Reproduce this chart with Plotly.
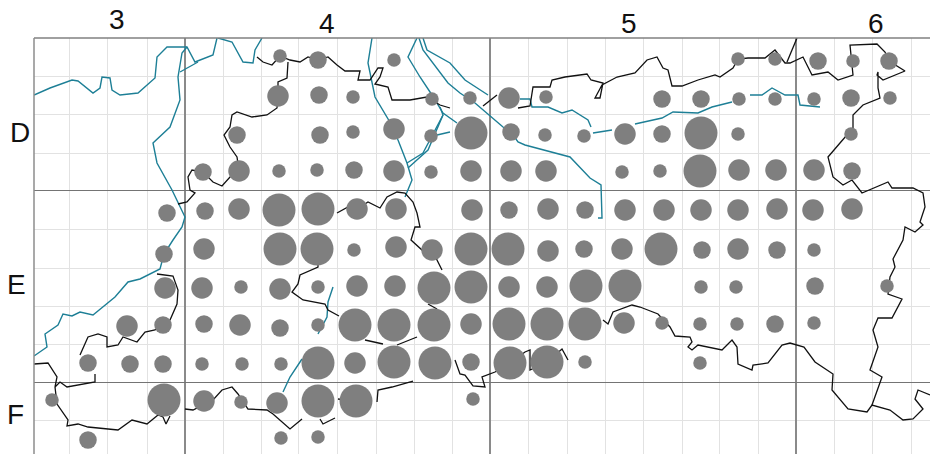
import plotly.graph_objects as go

# Occurrence records: map position and abundance class (1 to 4)
bubble_x = [280,318,394,738,775,818,853,889,
 278,319,353,432,470,509,546,662,701,739,775,814,851,890,
 237,320,353,394,431,471,511,545,584,625,662,701,738,851,
 203,239,279,317,354,394,431,471,511,546,622,660,700,739,776,814,852,
 167,205,239,279,318,357,396,472,509,548,585,625,664,701,738,777,813,852,
 164,204,280,317,354,396,432,471,508,548,584,622,661,702,738,777,814,
 165,202,241,280,318,357,395,434,471,509,547,586,625,701,736,815,887,
 127,163,204,240,280,318,355,394,434,471,509,547,585,624,662,700,737,775,814,
 88,130,163,202,242,281,318,355,394,435,471,510,547,585,700,
 52,164,204,241,277,318,356,473,
 88,281,318]
bubble_y = [56,60,60,59,59,61,61,61,
 96,95,97,99,98,98,97,99,99,99,99,99,98,98,
 135,135,132,129,136,133,132,135,136,134,134,133,134,134,
 172,171,171,170,170,171,172,171,171,171,172,171,171,170,170,170,171,
 213,211,209,210,209,209,209,210,210,209,210,210,210,210,210,209,210,209,
 254,249,249,249,250,247,250,249,249,251,249,249,249,250,249,250,250,
 288,288,287,289,287,286,286,288,287,287,287,286,286,287,287,286,286,
 326,325,324,325,328,325,325,325,325,324,324,324,324,323,323,324,324,324,323,
 363,364,364,364,364,364,363,363,362,363,362,363,362,362,363,
 400,400,401,402,403,401,401,399,
 440,438,437]
bubble_class = [1,2,1,1,1,2,1,2,
 3,2,1,1,1,3,1,2,2,1,1,1,2,1,
 2,2,1,3,1,4,2,1,1,3,2,4,1,1,
 2,3,1,1,2,3,1,3,3,3,1,1,4,3,3,3,2,
 2,2,3,4,4,3,3,3,2,3,2,3,3,3,3,3,3,3,
 2,3,4,4,1,3,3,4,4,3,2,3,4,2,3,2,1,
 3,3,1,3,1,3,3,4,4,3,3,4,4,1,1,2,1,
 3,2,2,3,2,1,4,4,4,3,4,4,4,3,1,1,1,2,1,
 2,2,2,1,1,1,4,3,4,4,2,4,4,1,1,
 1,4,3,1,3,4,4,1,
 2,1,1]

border_x = [257,263,272,280,290,300,308,318,328,337,345,360,358,370,378,383,380,375,388,392,410,427,440,450,None,
 288,287,278,278,277,267,252,237,232,230,224,230,237,239,230,222,213,203,192,188,190,195,187,178,None,
 337,348,357,368,380,387,397,405,413,417,420,415,411,422,432,442,None,
 428,437,None,
 318,318,300,298,292,303,325,328,339,None,
 365,383,None,397,417,None,
 157,173,178,177,170,155,145,137,123,118,107,107,98,88,80,None,
 34,48,57,55,60,67,95,95,None,
 55,57,68,67,78,88,118,132,147,158,163,166,170,None,
 185,193,213,222,232,238,248,267,273,290,302,None,320,323,335,None,
 338,352,None,377,378,392,413,None,
 455,460,465,473,485,482,495,510,525,530,530,547,562,568,None,
 603,608,613,632,640,658,670,675,690,692,688,692,698,722,732,737,738,752,753,768,782,790,804,815,833,832,848,867,872,890,903,913,923,915,918,930,None,
 483,497,None,
 518,530,533,550,552,565,587,591,603,600,595,602,617,635,647,657,663,668,672,682,698,715,720,733,738,748,765,775,785,790,803,812,828,838,853,850,877,885,889,905,883,877,878,878,880,863,853,853,840,828,833,843,852,862,888,892,913,923,925,920,923,915,905,903,893,895,890,888,902,892,878,873,878,870,882,872,None,
 797,787]
border_y = [57,62,65,56,60,62,57,60,57,65,71,71,80,80,68,68,77,84,87,100,100,97,105,108,None,
 62,78,82,96,108,115,117,112,115,127,135,147,157,171,177,186,182,172,170,177,190,193,202,204,None,
 213,207,209,202,208,197,192,193,202,213,227,227,240,250,250,270,None,
 304,309,None,
 249,267,275,284,292,300,304,310,316,None,
 340,344,None,345,337,None,
 274,276,290,304,320,330,332,342,337,345,347,337,334,337,355,None,
 364,363,377,387,382,387,382,374,None,
 387,404,420,426,424,427,430,420,424,415,417,424,416,None,
 409,410,400,390,387,394,409,410,414,429,419,None,419,424,418,None,
 399,401,None,402,390,387,381,None,
 360,374,375,386,387,377,372,363,352,350,370,362,349,360,None,
 320,324,312,305,307,314,327,336,337,342,347,350,345,350,340,347,364,370,365,363,345,343,347,362,374,390,409,412,405,410,420,419,409,399,390,395,None,
 106,95,None,
 108,106,87,87,80,77,74,80,83,98,98,85,77,73,60,57,68,70,86,86,80,75,77,68,59,58,58,50,63,63,57,75,72,80,75,45,44,52,61,71,80,75,72,88,98,105,115,128,143,157,177,185,180,193,182,188,188,193,207,222,225,232,227,240,259,267,277,294,299,318,318,330,347,370,377,405,None,
 38,62]

river_x = [34,50,72,78,93,100,102,110,112,120,138,155,157,167,187,195,213,217,None,
 218,232,243,253,255,262,None,
 187,182,178,180,170,153,157,172,185,182,173,164,160,140,128,115,93,80,72,63,58,45,47,34,None,
 180,198,None,
 372,368,375,388,394,398,407,412,405,None,
 408,428,443,440,None,407,423,443,None,
 417,408,420,432,443,457,None,437,450,None,
 419,423,448,460,475,503,511,518,525,570,590,601,602,598,None,
 423,427,450,465,488,None,
 520,530,532,548,562,572,588,591,None,
 593,612,None,635,662,673,698,712,732,None,750,762,772,785,798,800,820,None,
 333,328,327,318,None,302,290,283]
river_y = [95,88,80,81,93,88,77,78,90,95,93,78,57,47,47,62,55,38,None,
 38,42,62,63,50,38,None,
 47,53,77,100,127,143,163,190,217,227,240,254,269,279,282,297,315,312,316,314,325,334,347,356,None,
 72,62,None,
 38,63,97,118,129,140,163,180,197,None,
 168,150,115,107,None,163,153,115,None,
 38,57,77,95,113,123,None,135,132,None,
 38,50,83,93,103,127,132,142,145,157,178,185,218,218,None,
 38,50,63,80,95,None,
 99,99,107,107,113,110,120,127,None,
 133,130,None,124,118,112,113,107,102,None,95,95,88,95,95,105,107,None,
 287,302,317,334,None,359,377,392]

major_x = [185,490,796]
major_y = [190,382]
minor_x = [69,107,147,223,261,298,337,376,414,452,528,567,605,643,682,719,758,834,872,911]
minor_y = [76,114,153,229,268,306,344,420]

col_labels = ["3","4","5","6"]
col_label_x = [117,327,629,876]
col_label_y = [20,23,23,24]
row_labels = ["D","E","F"]
row_label_x = [20,16,15]
row_label_y = [132,284,414]

class_diameter = {1:13.5, 2:17.5, 3:21.5, 4:33}
W, H = 930, 454
L, T = 34, 38

fig = go.Figure()
fig.add_trace(go.Scatter(x=river_x, y=river_y, mode="lines", line=dict(color="#1d7f96", width=1.4), hoverinfo="skip"))
fig.add_trace(go.Scatter(x=border_x, y=border_y, mode="lines", line=dict(color="#111111", width=1.3), hoverinfo="skip"))
fig.add_trace(go.Scatter(x=bubble_x, y=bubble_y, mode="markers",
    marker=dict(size=[class_diameter[c] for c in bubble_class], color="#7f7f7f", line=dict(width=0), opacity=1)))

def px_to_paper(px, py):
    return (px - L) / (W - L), (H - py) / (H - T)

for t, px, py in list(zip(col_labels, col_label_x, col_label_y)) + list(zip(row_labels, row_label_x, row_label_y)):
    ax, ay = px_to_paper(px, py)
    fig.add_annotation(text=t, x=ax, y=ay, xref="paper", yref="paper", showarrow=False,
                       xanchor="center", yanchor="middle",
                       font=dict(family="Liberation Sans", size=28, color="#111111"))

fig.add_shape(type="line", xref="paper", yref="paper", x0=0, x1=1, y0=1, y1=1, line=dict(color="#808080", width=1.5))
fig.add_shape(type="line", xref="paper", yref="paper", x0=0, x1=0, y0=0, y1=1, line=dict(color="#8c8c8c", width=1.5))

axis = dict(showticklabels=False, ticks="", zeroline=False, showline=False, layer="below traces")
fig.update_layout(width=W, height=H, margin=dict(l=L, r=0, t=T, b=0), showlegend=False,
    paper_bgcolor="white", plot_bgcolor="white",
    xaxis=dict(range=[L, W], tickmode="array", tickvals=major_x, gridcolor="#8a8a8a", gridwidth=1.6,
               minor=dict(tickmode="array", tickvals=minor_x, showgrid=True, gridcolor="#e2e2e2", gridwidth=1.1, ticks=""), **axis),
    yaxis=dict(range=[H, T], tickmode="array", tickvals=major_y, gridcolor="#747474", gridwidth=1.3,
               minor=dict(tickmode="array", tickvals=minor_y, showgrid=True, gridcolor="#e2e2e2", gridwidth=1.1, ticks=""), **axis))
fig.write_html("out.html", config=dict(displayModeBar=False), post_script="document.body.style.margin='0';")
